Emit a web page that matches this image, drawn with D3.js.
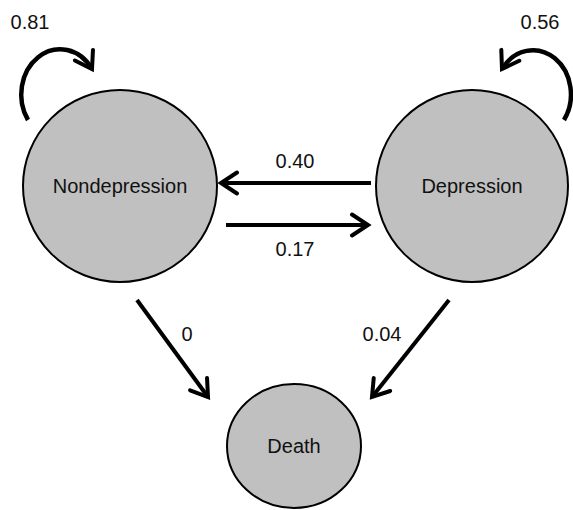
<!DOCTYPE html>
<html>
<head>
<meta charset="utf-8">
<script src="https://cdn.jsdelivr.net/npm/d3@7"></script>
<style>
  body { margin: 0; background: #fff; }
  text { font-family: "Liberation Sans", Arial, sans-serif; fill: #111; }
</style>
</head>
<body>
<div id="chart"></div>
<script>
// states of the markov model
const states = ["Nondepression", "Depression", "Death"];
// transitions between states, with probability labels
const fromState = ["Nondepression", "Depression", "Nondepression", "Depression", "Nondepression", "Depression"];
const toState   = ["Nondepression", "Depression", "Depression", "Nondepression", "Death", "Death"];
const probs     = ["0.81", "0.56", "0.17", "0.40", "0", "0.04"];

const width = 573, height = 510;

const svg = d3.select("#chart").append("svg")
  .attr("width", width)
  .attr("height", height);

// layout: top row of two states, death below in the middle
const xTop = d3.scalePoint().domain(states.slice(0, 2)).range([120, 472]);
const pos = {
  Nondepression: { x: xTop("Nondepression"), y: 186, rx: 97, ry: 96 },
  Depression: { x: xTop("Depression"), y: 186, rx: 96, ry: 96 },
  Death: { x: 294, y: 446, rx: 67, ry: 62 }
};

// arrow head (open chevron)
svg.append("defs").append("marker")
  .attr("id", "head")
  .attr("markerUnits", "userSpaceOnUse")
  .attr("viewBox", "-20 -13 24 26")
  .attr("refX", 0).attr("refY", 0)
  .attr("markerWidth", 24).attr("markerHeight", 26)
  .attr("orient", "auto")
  .append("path")
  .attr("d", "M-16,-10.5 L0,0 L-16,10.5")
  .attr("fill", "none")
  .attr("stroke", "#000")
  .attr("stroke-width", 4)
  .attr("stroke-linecap", "round");

// nodes
const nodeG = svg.selectAll("g.node")
  .data(states)
  .enter().append("g")
  .attr("class", "node")
  .attr("transform", d => "translate(" + pos[d].x + "," + pos[d].y + ")");

nodeG.append("ellipse")
  .attr("rx", d => pos[d].rx)
  .attr("ry", d => pos[d].ry)
  .attr("fill", "#c0c0c0")
  .attr("stroke", "#000")
  .attr("stroke-width", 2);

nodeG.append("text")
  .attr("text-anchor", "middle")
  .attr("dy", "0.35em")
  .style("font-size", "20px")
  .text(d => d);

// edge geometry
function edgeGeom(f, t) {
  const a = pos[f], b = pos[t];
  if (f === t) {
    // self loop above the node
    const left = a.x < width / 2;
    const x0 = left ? 28 : 564, y0 = 120;
    const x1 = left ? 92 : 502, y1 = 69;
    return {
      d: "M" + x0 + "," + y0 + " A36,42 0 1 " + (left ? 1 : 0) + " " + x1 + "," + y1,
      lx: left ? 30 : 540, ly: 22, w: 4.5
    };
  }
  if (t === "Death") {
    const left = a.x < width / 2;
    const x0 = left ? 137 : 449, y0 = 300;
    const x1 = left ? 208 : 372, y1 = 397;
    return {
      d: "M" + x0 + "," + y0 + " L" + x1 + "," + y1,
      lx: left ? 187 : 382, ly: 334, w: 4
    };
  }
  // horizontal arrows between the top two states
  const dir = b.x > a.x ? 1 : -1;
  const y = dir > 0 ? 225 : 183;
  const xs = dir > 0 ? [226, 368] : [371, 221];
  return {
    d: "M" + xs[0] + "," + y + " L" + xs[1] + "," + y,
    lx: 295, ly: dir > 0 ? 249 : 161, w: 4
  };
}

const edges = fromState.map((f, i) => Object.assign({ f: f, t: toState[i], p: probs[i] }, edgeGeom(f, toState[i])));

svg.selectAll("path.edge")
  .data(edges)
  .enter().append("path")
  .attr("class", "edge")
  .attr("d", d => d.d)
  .attr("fill", "none")
  .attr("stroke", "#000")
  .attr("stroke-width", d => d.w)
  .attr("marker-end", "url(#head)");

svg.selectAll("text.prob")
  .data(edges)
  .enter().append("text")
  .attr("class", "prob")
  .attr("x", d => d.lx)
  .attr("y", d => d.ly)
  .attr("text-anchor", "middle")
  .attr("dy", "0.35em")
  .style("font-size", "20px")
  .text(d => d.p);
</script>
</body>
</html>
